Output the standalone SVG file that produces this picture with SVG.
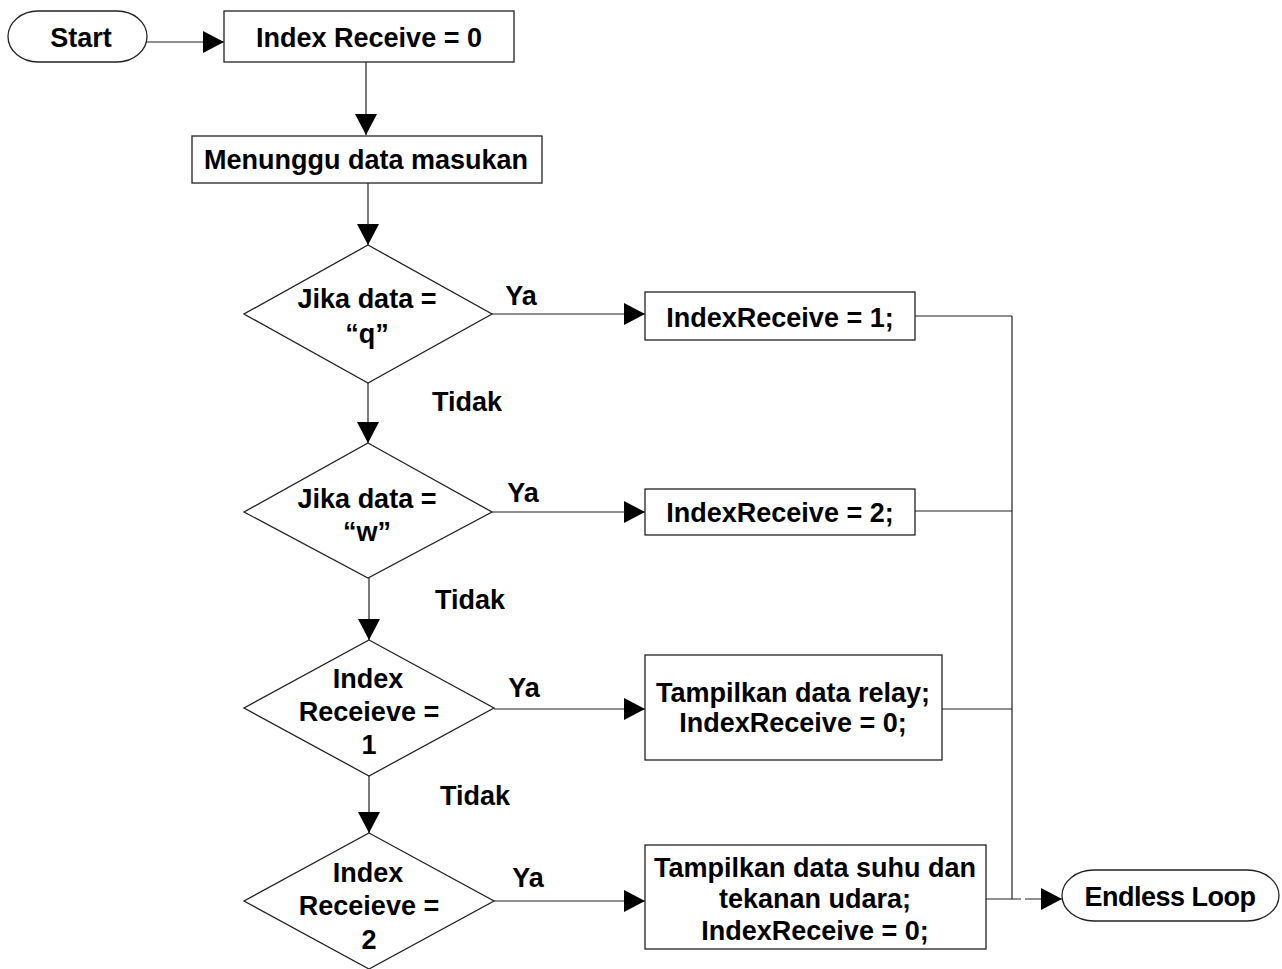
<svg xmlns="http://www.w3.org/2000/svg" width="1282" height="969" viewBox="0 0 1282 969">
<defs>
<style>
.shape{fill:#fff;stroke:#222;stroke-width:1.3}
.t{font-family:"Liberation Sans",Arial,sans-serif;font-weight:bold;font-size:27px;fill:#000;text-anchor:middle}
.c{fill:none;stroke:#222;stroke-width:1.2}
</style>
<marker id="ah" markerUnits="userSpaceOnUse" markerWidth="22" markerHeight="22" refX="21" refY="11" orient="auto">
<path d="M0,0 L21,11 L0,22 z" fill="#000"/>
</marker>
</defs>
<rect width="1282" height="969" fill="#fff"/>
<g id="connectors">
<path class="c" d="M147,42 H224" marker-end="url(#ah)"/>
<path class="c" d="M366,62 V135" marker-end="url(#ah)"/>
<path class="c" d="M368,183 V245" marker-end="url(#ah)"/>
<path class="c" d="M492,314 H645" marker-end="url(#ah)"/>
<path class="c" d="M368,383 V443" marker-end="url(#ah)"/>
<path class="c" d="M492,512 H645" marker-end="url(#ah)"/>
<path class="c" d="M369,578 V640" marker-end="url(#ah)"/>
<path class="c" d="M494,709 H645" marker-end="url(#ah)"/>
<path class="c" d="M369,776 V833" marker-end="url(#ah)"/>
<path class="c" d="M494,901 H645" marker-end="url(#ah)"/>
<path class="c" d="M915,316 H1012 M915,511 H1012 M942,709 H1012 M1012,316 V899"/>
<path class="c" d="M986,899 H1021"/>
<path class="c" d="M1025,899 H1062" marker-end="url(#ah)"/>
<text class="t" x="521" y="305">Ya</text>
<text class="t" x="467" y="411">Tidak</text>
<text class="t" x="523" y="502">Ya</text>
<text class="t" x="470" y="609">Tidak</text>
<text class="t" x="524" y="697">Ya</text>
<text class="t" x="475" y="805">Tidak</text>
<text class="t" x="528" y="887">Ya</text>
</g>
<g id="start">
<rect class="shape" x="8" y="11" width="139" height="51" rx="30" ry="25.5"/>
<text class="t" x="81" y="47">Start</text>
</g>
<g id="index0">
<rect class="shape" x="224" y="11" width="290" height="51"/>
<text class="t" x="369" y="47">Index Receive = 0</text>
</g>
<g id="menunggu">
<rect class="shape" x="192" y="136" width="350" height="47"/>
<text class="t" x="366" y="169">Menunggu data masukan</text>
</g>
<g id="d1">
<polygon class="shape" points="368,245 492,314 368,383 244,314"/>
<text class="t" x="367" y="308">Jika data =</text>
<text class="t" x="367" y="343">“q”</text>
</g>
<g id="b1">
<rect class="shape" x="645" y="292" width="270" height="48"/>
<text class="t" x="780" y="327">IndexReceive = 1;</text>
</g>
<g id="d2">
<polygon class="shape" points="368,443 492,512 368,578 244,512"/>
<text class="t" x="367" y="508">Jika data =</text>
<text class="t" x="367" y="541">“w”</text>
</g>
<g id="b2">
<rect class="shape" x="645" y="489" width="270" height="46"/>
<text class="t" x="780" y="522">IndexReceive = 2;</text>
</g>
<g id="d3">
<polygon class="shape" points="369,640 494,708 369,776 244,708"/>
<text class="t" x="368" y="688">Index</text>
<text class="t" x="369" y="721">Receieve =</text>
<text class="t" x="369" y="754">1</text>
</g>
<g id="b3">
<rect class="shape" x="645" y="655" width="297" height="105"/>
<text class="t" x="793" y="702">Tampilkan data relay;</text>
<text class="t" x="793" y="732">IndexReceive = 0;</text>
</g>
<g id="d4">
<polygon class="shape" points="369,833 494,901 369,969 244,901"/>
<text class="t" x="368" y="882">Index</text>
<text class="t" x="369" y="915">Receieve =</text>
<text class="t" x="369" y="949">2</text>
</g>
<g id="b4">
<rect class="shape" x="645" y="845" width="341" height="104"/>
<text class="t" x="815" y="877">Tampilkan data suhu dan</text>
<text class="t" x="815" y="908">tekanan udara;</text>
<text class="t" x="815" y="940">IndexReceive = 0;</text>
</g>
<g id="endless">
<rect class="shape" x="1062" y="870" width="217" height="51" rx="32" ry="25.5"/>
<text class="t" x="1170" y="906" style="letter-spacing:-0.5px">Endless Loop</text>
</g>
</svg>
